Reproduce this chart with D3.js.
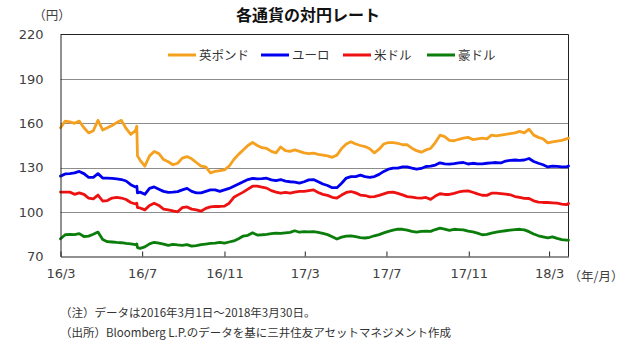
<!DOCTYPE html>
<html><head><meta charset="utf-8">
<script src="https://cdn.jsdelivr.net/npm/d3@7"></script>
<style>
html,body{margin:0;padding:0;background:#fff;}
svg{display:block;font-family:"Noto Sans CJK JP","Noto Sans",sans-serif;}
</style></head>
<body><svg id="c" width="631" height="345"></svg>
<script>
const dates = ["2016-03-01","2016-03-08","2016-03-15","2016-03-22","2016-03-29","2016-04-05","2016-04-12","2016-04-19","2016-04-26","2016-05-03",
"2016-05-10","2016-05-17","2016-05-24","2016-05-31","2016-06-07","2016-06-14","2016-06-21","2016-06-23","2016-06-24","2016-06-28","2016-07-05","2016-07-12",
"2016-07-19","2016-07-26","2016-08-02","2016-08-09","2016-08-16","2016-08-23","2016-08-30","2016-09-06","2016-09-13","2016-09-20",
"2016-09-27","2016-10-04","2016-10-11","2016-10-18","2016-10-25","2016-11-01","2016-11-08","2016-11-15","2016-11-22","2016-11-29",
"2016-12-06","2016-12-13","2016-12-20","2016-12-27","2017-01-03","2017-01-10","2017-01-17","2017-01-24","2017-01-31","2017-02-07",
"2017-02-14","2017-02-21","2017-02-28","2017-03-07","2017-03-14","2017-03-21","2017-03-28","2017-04-04","2017-04-11","2017-04-18",
"2017-04-25","2017-05-02","2017-05-09","2017-05-16","2017-05-23","2017-05-30","2017-06-06","2017-06-13","2017-06-20","2017-06-27",
"2017-07-04","2017-07-11","2017-07-18","2017-07-25","2017-08-01","2017-08-08","2017-08-15","2017-08-22","2017-08-29","2017-09-05",
"2017-09-12","2017-09-19","2017-09-26","2017-10-03","2017-10-10","2017-10-17","2017-10-24","2017-10-31","2017-11-07","2017-11-14",
"2017-11-21","2017-11-28","2017-12-05","2017-12-12","2017-12-19","2017-12-26","2018-01-02","2018-01-09","2018-01-16","2018-01-23",
"2018-01-30","2018-02-06","2018-02-13","2018-02-20","2018-02-27","2018-03-06","2018-03-13","2018-03-20","2018-03-27","2018-03-30"];

const gbp = [157,161.5,161,160,161.5,157,153.5,155,162,155.5,
157,158.5,160.5,162,156.5,152.5,155,158,138,135,131,138,
141,139.5,135.5,134,132,133,136.5,137.5,136,133.5,
131,130.5,126.5,127.5,128,128.5,131,135.5,139,142,
145,147,145,143.5,143,141,140,144,141.5,141,
142,141,140,139.5,139.8,139,138.5,138,137,138.5,
143,146,147.5,146,145,144.3,142.8,140,142.5,146,
147,147,146.5,145.5,145.5,143.2,141.5,140.5,142,143,
147,152,151,148.5,148.2,149.2,150,150.5,149,149.5,
150,149.5,152,151.5,152,152.5,153,153.5,154.5,153.5,
156,152,150.5,149.5,146.8,147.5,148,148.5,149.5,150];

const eur = [124.3,125.8,126,126.5,127.5,126,123.5,123.5,126,123,
123,122.8,122.5,122,121,118.5,117,117.5,113,113.5,112,116,
117,115.5,114,113.3,113.5,113.8,115,116,114,113,
113,114,115,115,114,115,116,117.5,119,120.5,
122,122.8,122.5,122.6,122.9,121.8,121.2,122,120.9,120.5,
120.2,119.6,120.5,121.8,122,120.5,119,118,116.5,116.5,
119.5,123,124,124,125,124,123.5,124,125.5,127.5,
129,129.7,129.7,130.5,130.5,129.7,129,129.5,130.8,131,
131.8,133.3,132.6,132.4,132.8,133.3,133.5,132.5,133,132.6,
132.6,133,133.3,133.5,133.2,134.5,135,135.2,135,135.2,
136.2,134.2,133,132,130.5,131,130.9,130.5,130.5,131.2];

const usd = [113.5,113.5,113.5,112,113,112,109.5,109,111.5,107.5,
107.8,109.5,110,109.5,108.5,106.5,105.5,106,103,102.8,101.5,104.5,
106,104.5,102,101.5,100.8,100.2,103,103.5,102,101.5,
100.6,102.5,103.5,103.8,103.8,104,106,110,111.8,113.5,
115.5,117.5,117.5,116.8,116.2,114.5,113.5,112.8,113.3,112.8,
113.5,114,114,114.5,115,113.2,112,111.3,110,109.5,
111.5,113.3,113.9,113,111.5,111.2,110.3,110.5,111.3,112.3,
113.3,113.5,112.6,111.6,110.5,110.1,109.6,109.5,109.9,108.6,
110.8,112.4,111.9,111.9,112.6,113.6,114.2,114.3,113.4,112.3,
111.4,111.3,112.8,112.8,112.5,112.2,111.7,110.5,110,109.3,
109.2,107.6,106.8,106.5,106.5,106.3,106,105.4,105,105.8];

const aud = [82,84.7,85,84.8,85.5,83.5,83.8,85,86.5,81.5,
80,79.8,79.5,79.3,78.8,78.5,78,78.5,76,75.5,76.5,78.5,
79.6,79,78.3,77.5,78.2,77.8,77.5,78,77,77.3,
78,78.4,78.8,79.1,79.6,79,79.8,80.5,82,83.8,
84.3,86,84.5,84.7,85,85.4,85.8,85.6,86,86.3,
87.4,86.4,86.8,86.6,86.8,86.3,85.6,84.8,83.4,81.8,
83.1,83.8,84,83.5,82.8,82.5,83,84,84.8,86,
87,87.8,88.5,88.4,87.8,87,86.5,87,87.2,87,
88.2,89.2,88.5,87.6,88.4,88.2,88,87.1,86.6,85.8,
84.7,85,85.8,86.4,87,87.4,87.8,88.1,88.4,88,
86.8,85.2,84,83.3,82.6,83.3,82.2,81.4,81,81];

const seriesNames = ["英ポンド","ユーロ","米ドル","豪ドル"];
const seriesColors = ["#F5A01E","#0000EE","#EE1111","#0B7D0B"];
const seriesValues = [gbp, eur, usd, aud];

const yTicks = [70,100,130,160,190,220];
const gridValues = [100,130,160,190];
const xTickDates = ["2016-03-01","2016-07-01","2016-11-01","2017-03-01","2017-07-01","2017-11-01","2018-03-01"];
const xTickLabels = ["16/3","16/7","16/11","17/3","17/7","17/11","18/3"];

const titleText = "各通貨の対円レート";
const yUnit = "（円）";
const xUnit = "（年/月）";
const notes = ["（注）データは2016年3月1日～2018年3月30日。","（出所）Bloomberg L.P.のデータを基に三井住友アセットマネジメント作成"];

const parse = d3.timeParse("%Y-%m-%d");
const D = dates.map(parse);
const svg = d3.select("#c");
const L = 60.5, R = 568.5, T = 34.5, B = 256.5;

const x = d3.scaleTime().domain([parse("2016-03-01"), parse("2018-03-30")]).range([L, R]);
const y = d3.scaleLinear().domain([70,220]).range([B, T]);

// gridlines
svg.append("g").selectAll("line").data(gridValues).join("line")
  .attr("x1", L).attr("x2", R).attr("y1", d=>Math.round(y(d))+0.5).attr("y2", d=>Math.round(y(d))+0.5)
  .attr("stroke", "#8c8c8c").attr("stroke-width", 1);

// frame top/right
svg.append("path").attr("d", `M${L},${T}H${R}V${B}`).attr("fill","none").attr("stroke","#222").attr("stroke-width",1);

// lines
const line = d3.line().x((d,i)=>x(D[i])).y(d=>y(d)).curve(d3.curveLinear);
svg.append("g").selectAll("path").data(seriesValues).join("path")
  .attr("d", d=>line(d)).attr("fill","none")
  .attr("stroke", (d,i)=>seriesColors[i]).attr("stroke-width", 2.8)
  .attr("stroke-linejoin","round").attr("stroke-linecap","round");

// y axis
const ya = svg.append("g").attr("transform", `translate(${L},0)`)
  .call(d3.axisLeft(y).tickValues(yTicks).tickSize(0).tickPadding(17).tickFormat(d3.format("d")));
ya.select(".domain").attr("stroke","#222");
ya.selectAll("text").attr("fill", "#404040").attr("font-family","'DejaVu Sans',sans-serif").style("font-size","13px");

// x axis
const xa = svg.append("g").attr("transform", `translate(0,${B})`)
  .call(d3.axisBottom(x).tickValues(xTickDates.map(parse)).tickFormat((d,i)=>xTickLabels[i]).tickSizeInner(-5).tickSizeOuter(0).tickPadding(12));
xa.select(".domain").attr("stroke","#222");
xa.selectAll(".tick line").attr("stroke","#222");
xa.selectAll("text").attr("fill", "#404040").attr("font-family","'DejaVu Sans',sans-serif").style("font-size","13px");

// title
svg.append("text").attr("x", 308).attr("y", 21).attr("text-anchor","middle")
  .attr("font-size", 16).attr("font-weight","bold").attr("fill","#111").text(titleText);
svg.append("text").attr("x", 52).attr("y", 20).attr("text-anchor","middle")
  .attr("font-size", 12.5).attr("fill","#404040").text(yUnit);
svg.append("text").attr("x", 596).attr("y", 281).attr("text-anchor","middle")
  .attr("font-size", 12.5).attr("fill","#404040").text(xUnit);

// legend
const legX = [168, 261, 343, 427];
const lg = svg.append("g").selectAll("g").data(seriesNames).join("g")
  .attr("transform", (d,i)=>`translate(${legX[i]},55)`);
lg.append("line").attr("x1",0).attr("x2",28).attr("y1",0).attr("y2",0)
  .attr("stroke",(d,i)=>seriesColors[i]).attr("stroke-width",3);
lg.append("text").attr("x",31).attr("y",4.5).attr("font-size",12.5).attr("fill","#333").text(d=>d);

// notes
svg.append("g").selectAll("text").data(notes).join("text")
  .attr("x", 60).attr("y", (d,i)=>317 + i*20).attr("font-size", 11.5).attr("fill","#333").text(d=>d);
</script></body></html>
